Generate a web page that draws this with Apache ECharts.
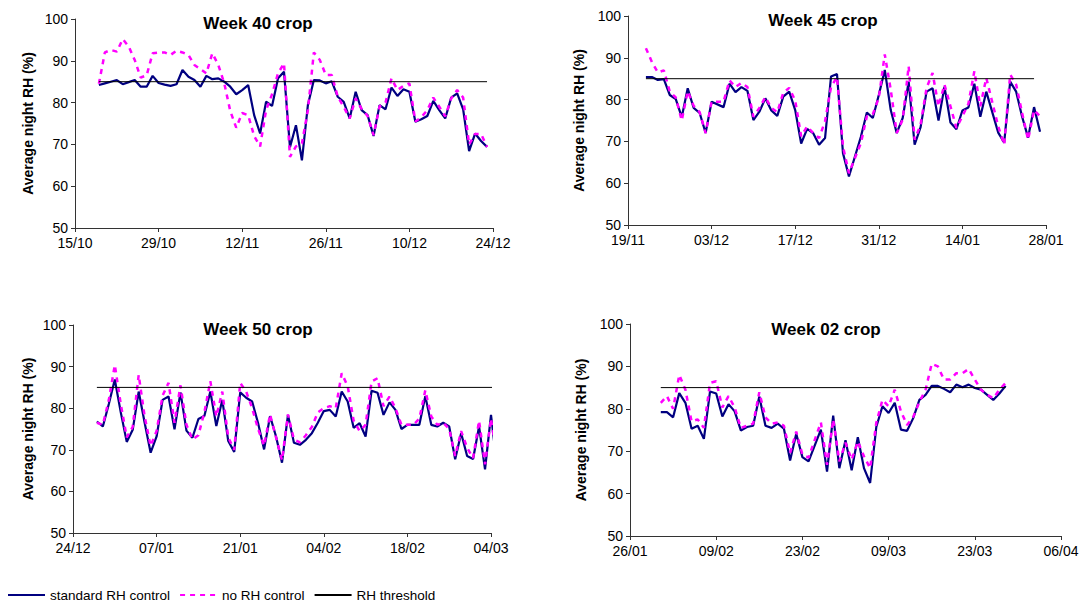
<!DOCTYPE html>
<html><head><meta charset="utf-8">
<script src="https://cdn.jsdelivr.net/npm/echarts@6/dist/echarts.min.js"></script>
<style>html,body{margin:0;padding:0;background:#fff}#c{width:1090px;height:603px}</style>
</head><body><div id="c"></div>
<script>
// ---------------- DATA ----------------
const seriesNames = ['standard RH control', 'no RH control', 'RH threshold'];
const panelTitles = ['Week 40 crop', 'Week 45 crop', 'Week 50 crop', 'Week 02 crop'];
const yAxisName = 'Average night RH (%)';
const rhThreshold = 85;

// Week 40 crop
const w40AxisStart = '2006-10-15';
const w40FirstDate = '2006-10-19';
const w40MissingDates = [];
const w40ThresholdEnd = '2006-12-23';
const w40Standard = [84.2,84.6,85.0,85.4,84.4,84.9,85.4,83.8,83.8,86.4,
  84.7,84.3,84.0,84.4,87.8,86.2,85.4,83.8,86.4,85.6,
  85.8,85.0,83.8,82.0,83.0,84.2,77.0,72.6,80.2,79.2,
  85.8,87.4,69.3,74.6,66.2,79.4,85.4,85.3,84.6,85.1,
  81.4,80.2,76.2,82.6,78.2,77.0,72.0,79.4,78.4,83.6,
  81.6,83.2,82.6,75.4,76.0,76.8,80.4,78.2,76.2,81.2,
  82.2,78.4,68.4,72.6,70.8,69.4];
const w40NoControl = [84.5,92.0,92.6,92.2,95.2,93.4,90.2,86.0,86.5,91.8,
  92.0,92.0,91.4,92.4,92.0,91.4,89.0,88.0,87.0,91.8,
  89.0,84.6,78.0,74.0,77.5,77.0,72.0,69.5,78.2,82.0,
  87.0,89.4,67.0,69.5,70.2,78.2,92.0,90.2,86.6,86.6,
  81.4,79.0,76.2,81.0,78.5,76.8,72.2,79.1,80.0,85.8,
  83.0,84.0,84.6,75.5,76.5,78.2,81.2,79.0,76.7,81.0,
  83.0,81.2,70.0,72.5,72.5,69.4];

// Week 45 crop
const w45AxisStart = '2006-11-19';
const w45FirstDate = '2006-11-22';
const w45MissingDates = ['2006-12-04', '2006-12-27', '2007-01-19'];
const w45ThresholdEnd = '2007-01-26';
const w45Standard = [85.4,85.4,84.7,84.9,81.1,80.1,75.8,82.7,78.0,76.8,
  72.0,79.5,78.2,83.8,81.8,83.0,82.1,75.1,77.1,80.3,
  77.4,76.1,80.7,81.9,77.5,69.5,73.0,72.0,69.2,70.8,
  85.5,86.1,67.2,61.6,71.1,76.9,75.6,81.1,87.1,77.5,
  72.0,75.6,84.3,69.2,73.4,81.9,82.7,75.0,83.1,74.5,
  72.9,77.4,78.1,83.8,75.9,81.9,72.1,69.7,84.3,81.9,
  75.9,70.9,78.2,72.3];
const w45NoControl = [92.3,89.0,86.5,87.0,81.9,80.5,75.0,82.0,78.5,77.0,
  72.0,79.5,79.5,84.6,83.0,84.0,83.0,75.9,78.0,80.6,
  78.0,77.0,81.6,82.8,79.8,71.2,73.6,72.0,70.8,74.8,
  83.0,85.4,68.8,62.4,69.6,76.0,76.5,80.4,90.8,82.4,
  72.0,75.2,88.0,70.4,74.0,82.8,86.4,78.4,83.6,78.4,
  73.2,76.0,79.0,86.8,78.4,85.2,73.6,69.2,86.0,83.6,
  76.8,70.4,77.5,76.0];

// Week 50 crop
const w50AxisStart = '2006-12-24';
const w50FirstDate = '2006-12-28';
const w50MissingDates = [];
const w50ThresholdEnd = '2007-03-05';
const w50Standard = [76.8,75.6,81.0,86.9,79.0,71.9,74.8,84.0,76.5,69.3,
  73.2,82.0,82.8,74.9,83.8,74.6,72.9,77.4,78.1,84.0,
  75.7,82.0,72.1,69.5,83.8,82.5,81.6,76.4,70.1,78.1,
  73.2,66.9,78.4,71.7,71.2,72.4,74.0,76.5,79.3,79.6,
  78.0,84.0,81.6,75.3,76.4,73.2,84.2,83.7,78.4,81.4,
  79.6,75.0,76.0,76.0,76.0,82.9,76.0,75.6,76.5,75.6,
  67.7,74.0,68.5,67.8,75.6,65.3,78.4,66.1];
const w50NoControl = [76.5,76.0,82.0,90.4,81.0,73.0,75.5,88.0,78.0,70.9,
  74.5,83.0,86.1,76.5,85.5,76.0,72.5,73.5,79.0,86.5,
  78.0,84.0,73.0,70.0,86.1,84.0,80.0,75.0,71.0,78.5,
  73.0,67.5,78.5,72.5,71.8,73.5,75.5,79.0,80.0,80.5,
  80.0,88.4,85.3,77.0,74.5,76.0,86.4,87.2,80.5,82.8,
  80.0,76.0,76.0,76.0,77.5,84.3,78.0,76.0,76.5,75.0,
  68.5,74.5,70.5,68.0,77.0,66.5,77.5,68.0];

// Week 02 crop
const w02AxisStart = '2007-01-26';
const w02FirstDate = '2007-01-31';
const w02MissingDates = ['2007-02-25'];
const w02ThresholdEnd = '2007-03-28';
const w02Standard = [79.2,79.2,78.0,83.7,81.4,75.3,76.0,72.9,84.1,83.6,
  78.2,81.1,79.4,74.9,75.7,76.0,82.9,76.0,75.5,76.5,
  75.3,67.8,74.1,68.6,67.6,75.1,65.2,78.4,66.0,72.6,
  65.5,73.3,66.0,62.5,75.7,80.6,79.0,81.4,75.1,74.8,
  77.8,82.1,83.3,85.4,85.4,84.7,83.9,85.7,85.1,85.7,
  84.9,84.5,83.3,82.1,83.6,85.4];
const w02NoControl = [81.4,83.0,80.0,88.0,84.5,77.0,77.5,75.5,86.1,86.5,
  80.3,83.0,80.3,75.5,76.0,76.5,83.9,78.0,76.5,76.8,
  76.0,69.6,74.6,69.2,68.5,76.8,66.8,77.5,67.6,72.0,
  68.0,72.3,68.8,66.0,76.7,82.1,80.6,84.5,79.4,76.2,
  78.1,81.6,84.5,90.6,90.0,86.9,86.9,88.4,88.4,89.4,
  86.9,84.5,83.3,82.5,84.5,86.1];

const axisSpanDays = 70, axisStepDays = 14;
const yMin = 50, yMax = 100, yStep = 10;

// ---------------- HELPERS ----------------
const DAY = 864e5;
const parse = s => Date.parse(s + 'T00:00:00Z');
function dateList(first, n, missing) {
  const skip = new Set(missing), out = [];
  let t = parse(first);
  while (out.length < n) {
    const iso = new Date(t).toISOString().slice(0, 10);
    if (!skip.has(iso)) out.push(iso);
    t += DAY;
  }
  return out;
}
const offset = (axisStart, iso) => Math.round((parse(iso) - parse(axisStart)) / DAY);
const fmtDate = axisStart => v => {
  const d = new Date(parse(axisStart) + v * DAY);
  return String(d.getUTCDate()).padStart(2, '0') + '/' + String(d.getUTCMonth() + 1).padStart(2, '0');
};

const panels = [
  {axisStart: w40AxisStart, first: w40FirstDate, missing: w40MissingDates, thrEnd: w40ThresholdEnd, std: w40Standard, noc: w40NoControl},
  {axisStart: w45AxisStart, first: w45FirstDate, missing: w45MissingDates, thrEnd: w45ThresholdEnd, std: w45Standard, noc: w45NoControl},
  {axisStart: w50AxisStart, first: w50FirstDate, missing: w50MissingDates, thrEnd: w50ThresholdEnd, std: w50Standard, noc: w50NoControl},
  {axisStart: w02AxisStart, first: w02FirstDate, missing: w02MissingDates, thrEnd: w02ThresholdEnd, std: w02Standard, noc: w02NoControl}
];

// ---------------- LAYOUT / STYLE ----------------
const FONT = '"Liberation Sans", Arial, sans-serif';
const layout = [
  {grid: {left: 75, top: 19, width: 418, height: 209}, tx: 258, ty: 23, nameGap: 40},
  {grid: {left: 628, top: 16, width: 418, height: 209}, tx: 823, ty: 20, nameGap: 42},
  {grid: {left: 73, top: 325, width: 418, height: 208}, tx: 258, ty: 329, nameGap: 38},
  {grid: {left: 630, top: 324, width: 431, height: 212}, tx: 826, ty: 329, nameGap: 42}
];
const axisLine = {show: true, onZero: false, lineStyle: {color: '#333', width: 1}};

const grids = [], xAxes = [], yAxes = [], series = [], graphics = [];
panels.forEach((p, i) => {
  const L = layout[i];
  grids.push(Object.assign({containLabel: false, outerBoundsMode: 'none'}, L.grid));
  xAxes.push({
    type: 'value', gridIndex: i, min: 0, max: axisSpanDays, interval: axisStepDays,
    axisLine, axisTick: {show: true, inside: false, length: 4, lineStyle: {color: '#333'}},
    splitLine: {show: false},
    axisLabel: {formatter: fmtDate(p.axisStart), fontFamily: FONT, fontSize: 14, color: '#000', margin: 8, showMinLabel: true, showMaxLabel: true}
  });
  yAxes.push({
    type: 'value', gridIndex: i, min: yMin, max: yMax, interval: yStep,
    axisLine, axisTick: {show: true, inside: false, length: 4, lineStyle: {color: '#333'}},
    splitLine: {show: false},
    axisLabel: {fontFamily: FONT, fontSize: 14, color: '#000', margin: 7},
    name: yAxisName, nameLocation: 'middle', nameGap: L.nameGap, nameRotate: 90,
    nameTextStyle: {fontFamily: FONT, fontSize: 14, fontWeight: 'bold', color: '#000'}
  });
  const dates = dateList(p.first, p.std.length, p.missing);
  const xs = dates.map(d => offset(p.axisStart, d));
  series.push({
    name: seriesNames[0], type: 'line', xAxisIndex: i, yAxisIndex: i, z: 2, clip: false,
    data: xs.map((x, k) => [x, p.std[k]]), symbol: 'none', animation: false,
    lineStyle: {color: '#000080', width: 2.2}, itemStyle: {color: '#000080'}
  });
  series.push({
    name: seriesNames[1], type: 'line', xAxisIndex: i, yAxisIndex: i, z: 3, clip: false,
    data: xs.map((x, k) => [x, p.noc[k]]), symbol: 'none', animation: false,
    lineStyle: {color: '#FF00FF', width: 2.5, type: [5, 5]}, itemStyle: {color: '#FF00FF'}
  });
  series.push({
    name: seriesNames[2], type: 'line', xAxisIndex: i, yAxisIndex: i, z: 4, clip: false,
    data: [[xs[0], rhThreshold], [offset(p.axisStart, p.thrEnd), rhThreshold]],
    symbol: 'none', animation: false,
    lineStyle: {color: '#000', width: 1}, itemStyle: {color: '#000'}
  });
  graphics.push({
    type: 'text', x: L.tx, y: L.ty,
    style: {text: panelTitles[i], font: 'bold 17px ' + FONT, fill: '#000',
      textAlign: 'center', textVerticalAlign: 'middle', align: 'center', verticalAlign: 'middle'}
  });
});

const chart = echarts.init(document.getElementById('c'), null, {renderer: 'svg'});
chart.setOption({
  animation: false,
  backgroundColor: '#fff',
  grid: grids, xAxis: xAxes, yAxis: yAxes, series,
  graphic: graphics,
  legend: {
    data: seriesNames, left: 7, top: 588, padding: 0,
    itemWidth: 37, itemHeight: 14, itemGap: 9,
    itemStyle: {opacity: 0, color: 'rgba(0,0,0,0)', borderColor: 'rgba(0,0,0,0)', borderWidth: 0},
    textStyle: {fontFamily: FONT, fontSize: 13.5, color: '#000'}
  }
});
</script></body></html>
